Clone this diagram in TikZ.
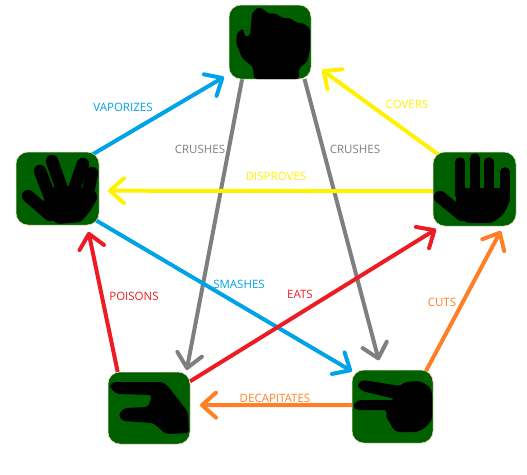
\documentclass[tikz,border=0pt]{standalone}
\usepackage{fontspec}
\setmainfont{Open Sans}
\usetikzlibrary{arrows.meta, backgrounds}
\definecolor{iconGreen}{HTML}{006000}
\definecolor{iconEdge}{HTML}{E6D9B8}
\definecolor{vapBlue}{HTML}{00A2E8}
\definecolor{crushGray}{HTML}{7F7F7F}
\definecolor{coverYellow}{HTML}{FFF200}
\definecolor{eatRed}{HTML}{ED1C24}
\definecolor{cutOrange}{HTML}{FF7F27}
\tikzset{
  icon/.style={draw=iconEdge, line width=0.5pt, fill=iconGreen, rounded corners=12pt, inner sep=0pt, outer sep=0pt, minimum width=#1},
  icon/.default=82pt,
  palm/.style={fill=black, rounded corners=3pt},
  finger/.style={draw=black, line width=#1, line cap=round},
  finger/.default=12.5pt,
  beat/.style={line width=4pt, -{Straight Barb[length=14pt,width=25pt,round]}},
  verb/.style={font=\fontsize{11.5}{13}\selectfont, inner sep=0pt}
}
\begin{document}
\begin{tikzpicture}[x=1pt, y=-1pt]
\useasboundingbox (0,0) rectangle (527,474);
% The icons
\node[icon=82pt, minimum height=74pt] (rock) at (270,42) {};
\node[icon=83pt, minimum height=73pt] (spock) at (57.5,188.5) {};
\node[icon=83pt, minimum height=74pt] (paper) at (474.5,189) {};
\node[icon=82pt, minimum height=72pt] (lizard) at (149,408) {};
\node[icon=81pt, minimum height=73pt] (scissors) at (392.5,406.5) {};
% The hands
\fill[palm] (254,79) -- (253,67) -- (242,58) -- (236,43) -- (237,33) -- (243,28) -- (245,37) -- (250,36) -- (252,13) -- (258,7) -- (265,10) -- (268,14) -- (275,13) -- (282,18) -- (290,18) -- (297,23) -- (303,23) -- (310,28) -- (310,50) -- (307,62) -- (299,68) -- (299,79) -- cycle;
\fill[palm] (43,202) -- (52,187) -- (93,188) -- (98,197) -- (91,210) -- (81,222) -- (57,224) -- (45,213) -- cycle;
\draw[finger] (40,171) -- (50,197);
\draw[finger] (52,161) -- (63,192);
\draw[finger] (83,164) -- (73,192);
\draw[finger] (92,173) -- (87,197);
\draw[finger] (28,196) -- (50,215);
\fill[palm] (456,202) -- (457,188) -- (509,188) -- (509,203) -- (503,215) -- (492,223) -- (467,223) -- (453,213) -- cycle;
\draw[finger=9.5pt] (460,162) -- (460,195);
\draw[finger=9.5pt] (475,158) -- (475,190);
\draw[finger=9.5pt] (489,162) -- (489,190);
\draw[finger=9.5pt] (505,172) -- (505,200);
\draw[finger] (440,197) -- (462,215);
\fill[palm] (110,385) -- (113,382) -- (162,382) -- (167,385) -- (188,412) -- (189,433) -- (166,434) -- (153,423) -- (123,421) -- (119,417) -- (120,412) -- (125,408) -- (148,407) -- (152,395) -- (117,394) -- (110,388) -- cycle;
\fill[palm] (358,383) -- (363,380) -- (400,386) -- (405,382) -- (420,381) -- (430,387) -- (432,393) -- (432,420) -- (425,428) -- (417,432) -- (397,432) -- (392,428) -- (390,422) -- (386,418) -- (387,410) -- (357,410) -- (353,407) -- (355,402) -- (360,400) -- (393,400) -- (395,399) -- (362,391) -- (358,387) -- cycle;
% The arrows
\begin{scope}[on background layer]
\draw[beat, crushGray, shorten >=2pt] (rock.233.9) -- (lizard.44.2);
\draw[beat, crushGray, shorten >=10pt] (rock.313) -- (scissors.107.5);
\draw[beat, vapBlue, shorten <=-10pt, shorten >=5.8pt] (spock.43.1) -- (rock.218);
\draw[beat, vapBlue, shorten <=-8pt] (spock.-39.3) -- (scissors.139.2);
\draw[beat, coverYellow, shorten <=-10pt, shorten >=13.6pt] (paper.137.2) -- (rock.-26);
\draw[beat, coverYellow, shorten >=9pt] (paper.183) -- (spock.-3.4);
\draw[beat, eatRed, shorten >=7pt] (lizard.131.5) -- (spock.-51.5);
\draw[beat, eatRed, shorten >=6pt] (lizard.33.4) -- (paper.228.7);
\draw[beat, cutOrange, shorten >=10pt] (scissors.178) -- (lizard.4);
\draw[beat, cutOrange, shorten <=-6pt, shorten >=5.7pt] (scissors.47) -- (paper.-52.8);
\end{scope}
% The labels
\node[verb, text=vapBlue] (vaporizes) at (123,107) {VAPORIZES};
\node[verb, text=crushGray] (crushesa) at (200,149) {CRUSHES};
\node[verb, text=crushGray] (crushesb) at (355,149) {CRUSHES};
\node[verb, text=coverYellow] (covers) at (407,104) {COVERS};
\node[verb, text=coverYellow] (disproves) at (276,176) {DISPROVES};
\node[verb, text=vapBlue] (smashes) at (239,284) {SMASHES};
\node[verb, text=eatRed] (eats) at (300,294) {EATS};
\node[verb, text=eatRed] (poisons) at (134,296) {POISONS};
\node[verb, text=cutOrange] (cuts) at (442,302) {CUTS};
\node[verb, text=cutOrange] (decapitates) at (275,398) {DECAPITATES};
\end{tikzpicture}
\end{document}
